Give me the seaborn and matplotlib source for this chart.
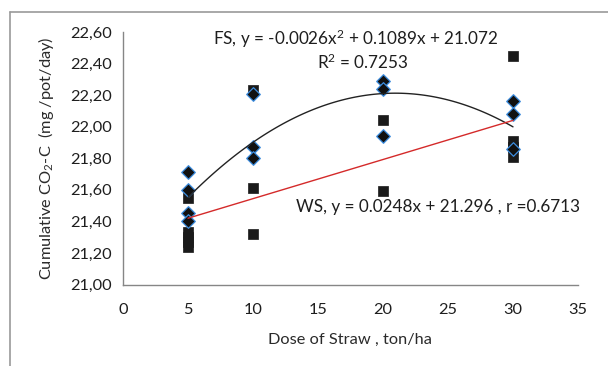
import matplotlib
matplotlib.use("Agg")
import matplotlib.pyplot as plt
import numpy as np
import seaborn as sns
from matplotlib.lines import Line2D
from matplotlib.ticker import FuncFormatter

# FS (diamonds) and WS (squares) observations
fs_dose = [5, 5, 5, 5, 10, 10, 10, 20, 20, 20, 30, 30, 30]
fs_co2 = [21.71, 21.60, 21.45, 21.40, 22.21, 21.87, 21.80, 22.29, 22.24, 21.94, 22.16, 22.08, 21.86]

ws_dose = [5, 5, 5, 5, 5, 10, 10, 10, 20, 20, 30, 30, 30, 30]
ws_co2 = [21.55, 21.33, 21.30, 21.27, 21.24, 22.23, 21.61, 21.32, 22.04, 21.59, 22.45, 21.91, 21.87, 21.81]

# trendline coefficients as printed on the chart
fs_coef = [-0.0026, 0.1089, 21.072]
ws_coef = [0.0248, 21.296]
trend_range = [5, 30]

sns.set_style("white")
plt.rcParams['font.family'] = ['Lato', 'DejaVu Sans']
plt.rcParams['mathtext.fontset'] = 'custom'
plt.rcParams['mathtext.rm'] = 'Lato'
plt.rcParams['mathtext.it'] = 'Lato'

fig = plt.figure(figsize=(6.08, 3.66), dpi=100)
ax = fig.add_axes([123 / 608, 1 - 284.5 / 366, 455 / 608, 252.5 / 366])

sns.scatterplot(x=ws_dose, y=ws_co2, ax=ax, marker='s', s=42, color='#1a1a1a',
                edgecolor='#1a1a1a', linewidth=0.5, zorder=3)
sns.scatterplot(x=fs_dose, y=fs_co2, ax=ax, marker='D', s=48, color='#111111',
                edgecolor='#3d8ee0', linewidth=0.9, zorder=4)

xx = np.linspace(trend_range[0], trend_range[1], 100)
sns.lineplot(x=xx, y=np.polyval(fs_coef, xx), ax=ax, color='#222222', lw=1.0, zorder=5)
sns.lineplot(x=xx, y=np.polyval(ws_coef, xx), ax=ax, color='#d42a2a', lw=1.0, zorder=5)

fs = 11.8
ax.set_xlim(0, 35)
ax.set_ylim(21.0, 22.6)
ax.set_xticks(np.arange(0, 36, 5))
ax.set_yticks(np.arange(21.0, 22.61, 0.2))
ax.yaxis.set_major_formatter(FuncFormatter(lambda v, p: f"{v:.2f}".replace('.', ',')))
ax.tick_params(axis='both', direction='out', length=4, width=1, color='#868686',
               labelsize=fs, labelcolor='#1e1e1e', pad=4)
ax.tick_params(axis='x', pad=9)
for side in ['top', 'right']:
    ax.spines[side].set_visible(False)
for side in ['left', 'bottom']:
    ax.spines[side].set_color('#868686')
    ax.spines[side].set_linewidth(1)

ax.set_xlabel("Dose of Straw , ton/ha", fontsize=fs, color='#2a2a2a', labelpad=12)
ax.set_ylabel("Cumulative CO$_2$-C  (mg /pot/day)", fontsize=fs, color='#2a2a2a', labelpad=10)

ta = 12.3
ax.text(356 / 608, 1 - 39 / 366, "FS, y = -0.0026x$^2$ + 0.1089x + 21.072", transform=fig.transFigure,
        ha='center', va='center', fontsize=ta, color='#1e1e1e')
ax.text(363 / 608, 1 - 62 / 366, "R$^2$ = 0.7253", transform=fig.transFigure,
        ha='center', va='center', fontsize=ta, color='#1e1e1e')
ax.text(438 / 608, 1 - 207 / 366, "WS, y = 0.0248x + 21.296 , r =0.6713", transform=fig.transFigure,
        ha='center', va='center', fontsize=ta, color='#1e1e1e')

# outer frame lines (top and left)
fig.add_artist(Line2D([10 / 608, 1], [1 - 12 / 366, 1 - 12 / 366], transform=fig.transFigure,
                      color='#9a9a9a', lw=1.2))
fig.add_artist(Line2D([10 / 608, 10 / 608], [0, 1 - 12 / 366], transform=fig.transFigure,
                      color='#9a9a9a', lw=1.2))

fig.savefig("out.png", dpi=100)
